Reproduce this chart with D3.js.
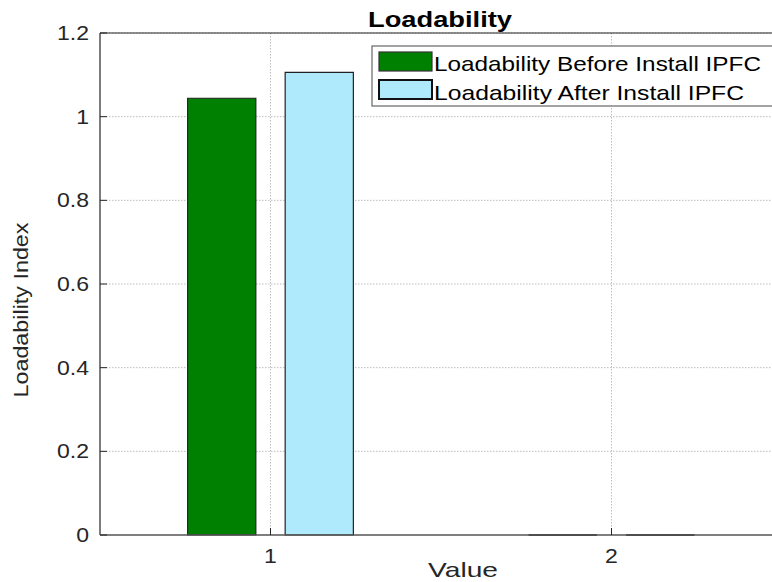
<!DOCTYPE html>
<html><head><meta charset="utf-8">
<script src="https://cdn.jsdelivr.net/npm/d3@7"></script>
<style>
body{margin:0;background:#fff;}
svg{display:block;font-family:"Liberation Sans",Arial,sans-serif;}
</style></head>
<body><svg id="c" width="772" height="582"></svg>
<script>
const categories = [1, 2];
const seriesNames = ["Loadability Before Install IPFC", "Loadability After Install IPFC"];
const beforeValues = [1.044, 0];
const afterValues = [1.106, 0];
const yTicks = [0, 0.2, 0.4, 0.6, 0.8, 1, 1.2];
const yTickLabels = ["0", "0.2", "0.4", "0.6", "0.8", "1", "1.2"];
const xTickLabels = ["1", "2"];
const colors = ["#008000", "#aeeafc"];

const svg = d3.select("#c");
svg.append("rect").attr("width",772).attr("height",582).attr("fill","#fff");
const L = 100, R = 782, T = 33, B = 535;
const x = d3.scaleLinear().domain([0.5, 2.5]).range([L, R]);
const y = d3.scaleLinear().domain([0, 1.2]).range([B, T]);

function stretch(sel, target){
  sel.each(function(){
    const n = this; const len = n.getComputedTextLength();
    const w = typeof target === "function" ? target(len) : target;
    d3.select(n).attr("textLength", w).attr("lengthAdjust","spacingAndGlyphs");
  });
}

// grid
const grid = svg.append("g");
grid.selectAll(".gy").data(yTicks.slice(1)).join("line")
  .attr("x1",L).attr("x2",772).attr("y1",d=>y(d)).attr("y2",d=>y(d))
  .attr("stroke","#bdbdbd").attr("stroke-width",1).attr("stroke-dasharray","1.5,1.5");
grid.selectAll(".gx").data(categories).join("line")
  .attr("x1",d=>x(d)).attr("x2",d=>x(d)).attr("y1",T).attr("y2",B)
  .attr("stroke","#bdbdbd").attr("stroke-width",1).attr("stroke-dasharray","1.5,1.5");

// bars
const bw = 0.2, off = 0.143;
const series = [beforeValues, afterValues];
const barG = svg.append("g");
series.forEach((vals, si) => {
  barG.selectAll(null).data(categories).join("path")
    .attr("d", (c, i) => {
      const p = d3.path();
      const c0 = c + (si === 0 ? -off : off);
      const x0 = x(c0 - bw/2), x1 = x(c0 + bw/2);
      p.moveTo(x0, y(0)); p.lineTo(x0, y(vals[i])); p.lineTo(x1, y(vals[i])); p.lineTo(x1, y(0)); p.closePath();
      return p.toString();
    })
    .attr("fill", colors[si]).attr("stroke", "#222").attr("stroke-width", 1.2);
});

// axes
const axG = svg.append("g");
axG.append("line").attr("x1",L).attr("x2",772).attr("y1",T).attr("y2",T).attr("stroke","#262626").attr("stroke-width",1.2);
axG.append("line").attr("x1",L).attr("x2",L).attr("y1",T).attr("y2",B).attr("stroke","#262626").attr("stroke-width",1.2);
axG.append("line").attr("x1",L).attr("x2",772).attr("y1",B).attr("y2",B).attr("stroke","#555").attr("stroke-width",1.3);
// redraw zero-height bars on top of axis
series.forEach((vals, si) => {
  barG.selectAll(null).data(categories.filter((c,i)=>vals[i]===0)).join("line")
    .attr("x1", c => x(c + (si===0?-off:off) - bw/2)).attr("x2", c => x(c + (si===0?-off:off) + bw/2))
    .attr("y1", y(0)).attr("y2", y(0)).attr("stroke","#222").attr("stroke-width",1.3);
});
axG.selectAll(".ty").data(yTicks).join("line")
  .attr("x1",L).attr("x2",L+7).attr("y1",d=>y(d)).attr("y2",d=>y(d)).attr("stroke","#262626");
axG.selectAll(".tx").data(categories).join("line")
  .attr("x1",d=>x(d)).attr("x2",d=>x(d)).attr("y1",B).attr("y2",B-7).attr("stroke","#262626");

const yl = axG.selectAll(".yl").data(yTicks).join("text")
  .attr("x", 89).attr("y", d=>y(d)+7).attr("text-anchor","end")
  .attr("font-size",20).attr("fill","#262626").text((d,i)=>yTickLabels[i]);
stretch(yl, len=>len*1.15);
const xl = axG.selectAll(".xl").data(categories).join("text")
  .attr("x", d=>x(d)).attr("y", 563).attr("text-anchor","middle")
  .attr("font-size",20).attr("fill","#262626").text((d,i)=>xTickLabels[i]);
stretch(xl, len=>len*1.15);

// labels
const title = svg.append("text").attr("x",440).attr("y",27).attr("text-anchor","middle")
  .attr("font-size",22).attr("font-weight","bold").attr("fill","#000").text("Loadability");
stretch(title, 144);
const xlab = svg.append("text").attr("x",463).attr("y",577).attr("text-anchor","middle")
  .attr("font-size",21).attr("fill","#262626").text("Value");
stretch(xlab, 70);
const ylab = svg.append("text").attr("transform","translate(28,310) rotate(-90)").attr("text-anchor","middle")
  .attr("font-size",21).attr("fill","#262626").text("Loadability Index");
stretch(ylab, 175);

// legend
const lg = svg.append("g");
lg.append("rect").attr("x",372).attr("y",46).attr("width",404).attr("height",60)
  .attr("fill","#fff").attr("stroke","#666").attr("stroke-width",1.2);
const legY = [52, 80], legBase = [71, 100], legW = [327, 310];
seriesNames.forEach((name, i) => {
  lg.append("rect").attr("x",379).attr("y",legY[i]).attr("width",53).attr("height",19)
    .attr("fill",colors[i]).attr("stroke", i===0 ? "#333" : "#111").attr("stroke-width", i===0 ? 1.2 : 2);
  const t = lg.append("text").attr("x",434).attr("y",legBase[i]).attr("font-size",21).attr("fill","#000").text(name);
  stretch(t, legW[i]);
});
</script></body></html>
